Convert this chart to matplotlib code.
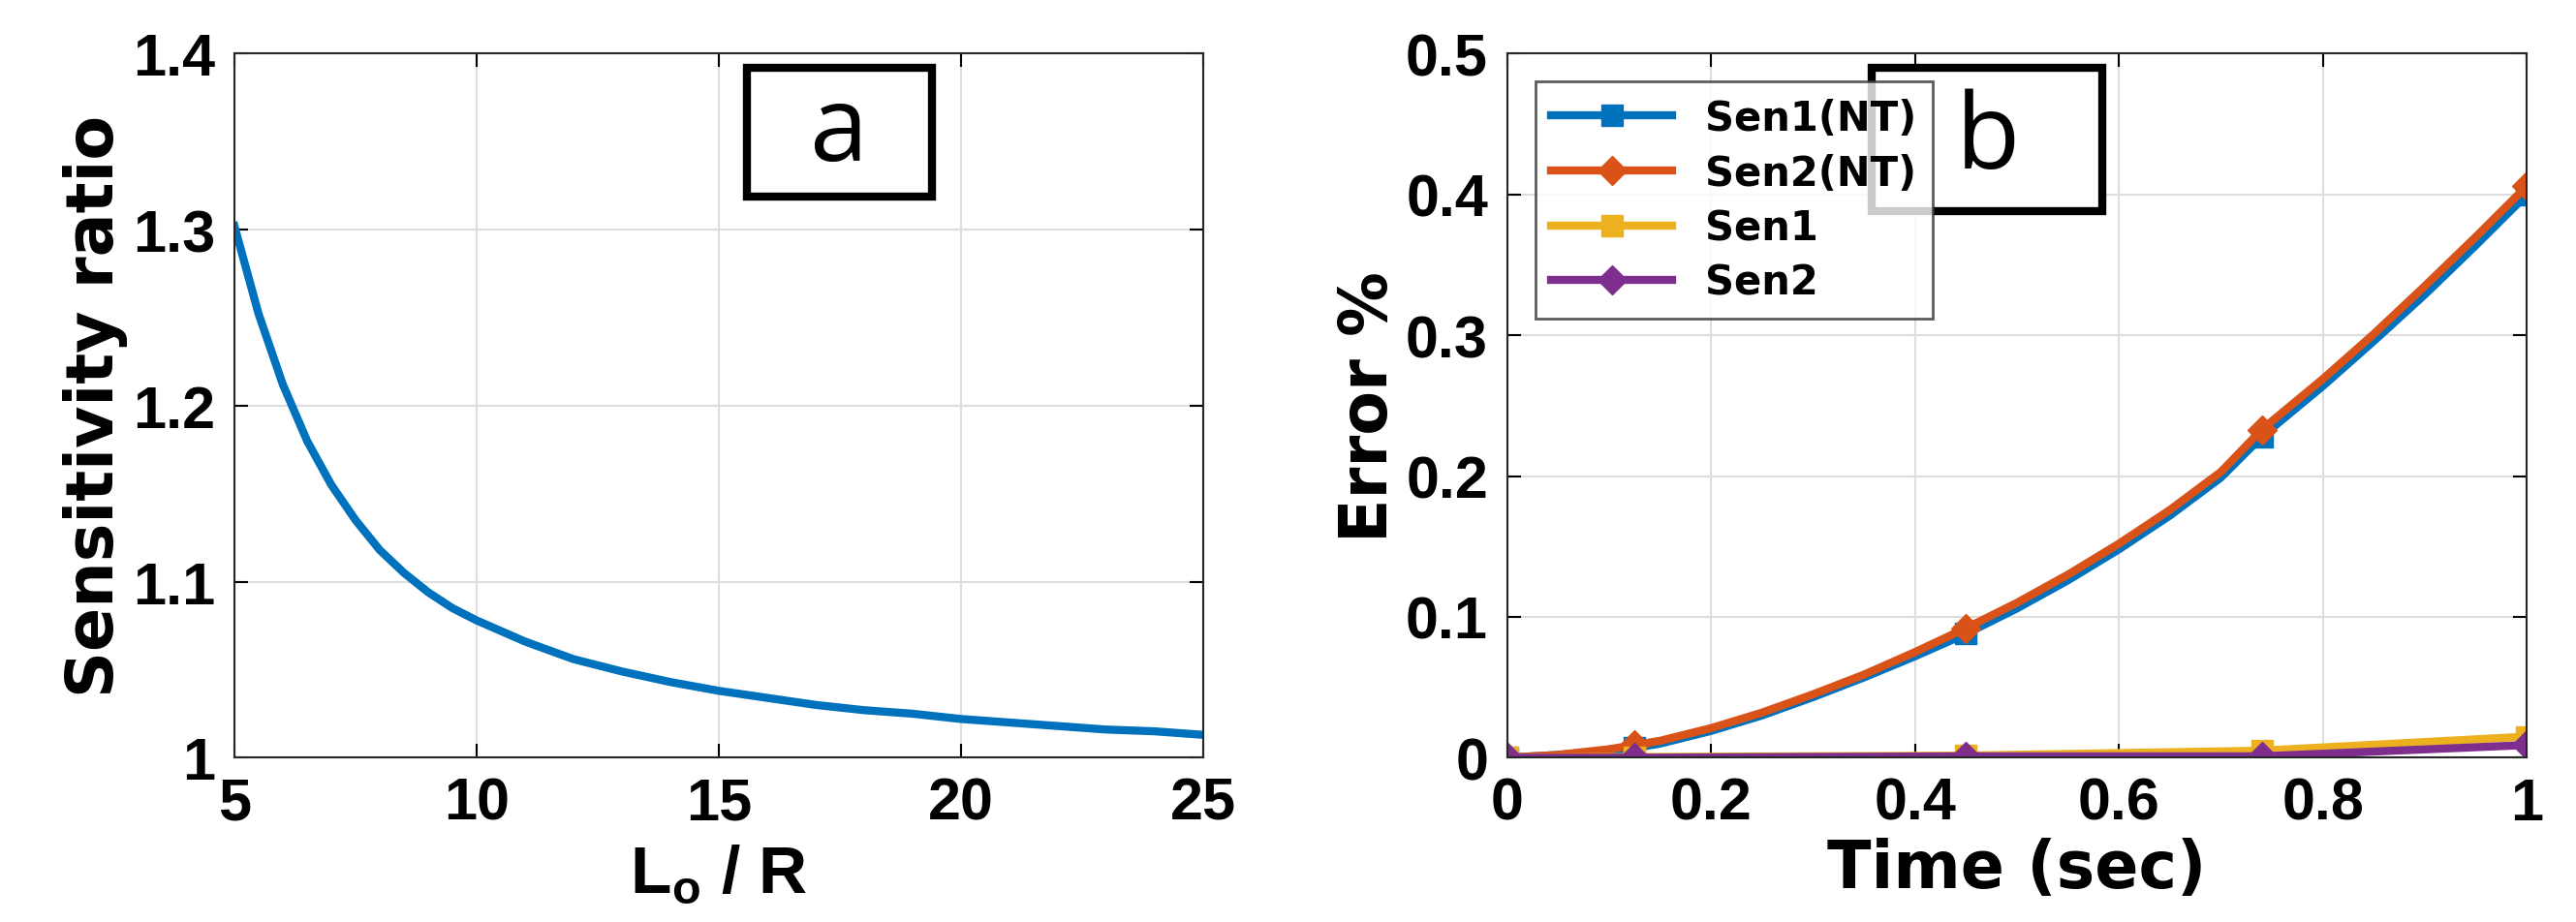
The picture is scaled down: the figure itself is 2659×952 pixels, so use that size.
import matplotlib
matplotlib.use('Agg')
import matplotlib.pyplot as plt
from matplotlib.patches import Rectangle

plt.rcParams['font.family'] = ['Liberation Sans', 'DejaVu Sans']
plt.rcParams['font.weight'] = 'bold'

# panel a: sensitivity ratio vs Lo/R
lo_r = [5, 5.5, 6, 6.5, 7, 7.5, 8, 8.5, 9, 9.5, 10, 11, 12, 13, 14, 15, 16, 17, 18, 19, 20,
        21, 22, 23, 24, 25]
sens_ratio = [1.302, 1.252, 1.212, 1.180, 1.155, 1.135, 1.118, 1.105, 1.094, 1.085, 1.078,
              1.066, 1.056, 1.049, 1.043, 1.038, 1.034, 1.030, 1.027, 1.025, 1.022,
              1.020, 1.018, 1.016, 1.015, 1.013]

# panel b: error vs time
t = [0, 0.05, 0.1, 0.125, 0.15, 0.2, 0.25, 0.3, 0.35, 0.4, 0.45, 0.5, 0.55, 0.6,
     0.65, 0.7, 0.74, 0.8, 0.85, 0.9, 0.95, 1.0]
sen1_nt = [0, 0.002, 0.005, 0.007, 0.010, 0.019, 0.030, 0.043, 0.057, 0.072, 0.088, 0.106,
           0.126, 0.148, 0.172, 0.199, 0.228, 0.264, 0.296, 0.329, 0.364, 0.400]
sen2_nt = [0, 0.002, 0.006, 0.009, 0.012, 0.021, 0.032, 0.045, 0.059, 0.075, 0.092, 0.110,
           0.130, 0.152, 0.176, 0.203, 0.233, 0.269, 0.301, 0.335, 0.370, 0.406]
mark_idx = [0, 3, 10, 16, 21]
t_m = [0, 0.125, 0.45, 0.74, 1.0]
sen1 = [0, 0.0005, 0.0015, 0.005, 0.015]
sen2 = [0, 0.0, 0.001, 0.001, 0.009]

fig = plt.figure(figsize=(26.59, 9.53), dpi=100)
ax1 = fig.add_axes([0.091, 0.178, 0.376, 0.763])
ax2 = fig.add_axes([0.585, 0.178, 0.396, 0.763])

ax1.plot(lo_r, sens_ratio, color='#0072BD', lw=6)
ax1.set_xlim(5, 25)
ax1.set_ylim(1, 1.4)
ax1.set_xticks([5, 10, 15, 20, 25])
ax1.set_yticks([1, 1.1, 1.2, 1.3, 1.4])
ax1.set_yticklabels(['1', '1.1', '1.2', '1.3', '1.4'])
ax1.set_xlabel(r'L$_\mathregular{o}$ / R', fontsize=50, fontweight='bold', labelpad=8)
ax1.set_ylabel('Sensitivity ratio', fontsize=48, fontweight='bold', family=['DejaVu Sans'])

ax2.plot(t, sen1_nt, color='#0072BD', lw=6, marker='s', ms=16, markevery=mark_idx, label='Sen1(NT)')
ax2.plot(t, sen2_nt, color='#D95319', lw=6, marker='D', ms=15, markevery=mark_idx, label='Sen2(NT)')
ax2.plot(t_m, sen1, color='#EDB120', lw=6, marker='s', ms=16, label='Sen1')
ax2.plot(t_m, sen2, color='#7E2F8E', lw=6, marker='D', ms=15, label='Sen2')
ax2.set_xlim(0, 1)
ax2.set_ylim(0, 0.5)
ax2.set_xticks([0, 0.2, 0.4, 0.6, 0.8, 1])
ax2.set_xticklabels(['0', '0.2', '0.4', '0.6', '0.8', '1'])
ax2.set_yticks([0, 0.1, 0.2, 0.3, 0.4, 0.5])
ax2.set_yticklabels(['0', '0.1', '0.2', '0.3', '0.4', '0.5'])
ax2.set_xlabel('Time (sec)', fontsize=48, fontweight='bold', family=['DejaVu Sans'])
ax2.set_ylabel('Error %', fontsize=48, fontweight='bold', family=['DejaVu Sans'])
leg = ax2.legend(loc='upper left', fontsize=30, fancybox=False, edgecolor='#333333',
                 handlelength=3, borderaxespad=0.7, labelspacing=0.35)
leg.get_frame().set_linewidth(2)
for txt in leg.get_texts():
    txt.set_fontweight('bold')
    txt.set_family(['DejaVu Sans'])

# label boxes (axes fractions)
for ax, lab, x0, x1, y0, y1 in [(ax1, 'a', 0.529, 0.720, 0.797, 0.979),
                                (ax2, 'b', 0.358, 0.584, 0.776, 0.979)]:
    ax.add_patch(Rectangle((x0, y0), x1 - x0, y1 - y0, transform=ax.transAxes,
                           fc='white', ec='black', lw=6, zorder=5))
    ax.text((x0 + x1) / 2, (y0 + y1) / 2, lab, transform=ax.transAxes, fontsize=78,
            fontweight='normal', family=['Open Sans'], ha='center', va='center', zorder=6)

for ax in (ax1, ax2):
    ax.grid(True, color='#dddddd', lw=1.5)
    ax.tick_params(labelsize=44, direction='in', length=10, width=1.5, pad=14, top=True, right=True)
    for lab in ax.get_xticklabels() + ax.get_yticklabels():
        lab.set_fontweight('bold')
    for s in ax.spines.values():
        s.set_linewidth(1.5)
        s.set_color('#262626')

fig.savefig('out.png', dpi=100)
